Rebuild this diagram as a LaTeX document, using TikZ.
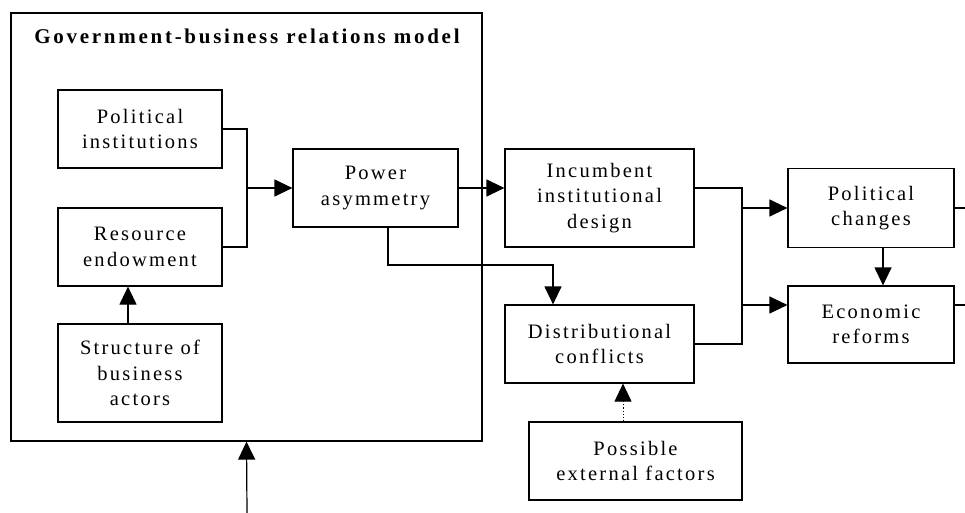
\documentclass[tikz,border=0pt]{standalone}
\usepackage{fontspec}
\setmainfont{Liberation Serif}[LetterSpace=11]
\usetikzlibrary{arrows.meta}
\begin{document}
\begin{tikzpicture}[x=1pt,y=-1pt,
  box/.style={draw,line width=1.2pt,minimum width=#1,inner sep=0pt,align=center,font=\fontsize{20.5}{25.5}\selectfont},
  conn/.style={line width=1.2pt},
  arr/.style={line width=1.2pt,-{Triangle[length=18pt,width=17pt]}},
  ]
\useasboundingbox (0,0) rectangle (965,513);
\node[draw,line width=1.2pt,minimum width=471pt,minimum height=428pt,inner sep=0pt] (big) at (246.5,227) {};
\node[font=\bfseries\fontsize{21}{25}\selectfont\addfontfeatures{LetterSpace=13}] (title) at (247,36) {Government-business relations model};
\node[box=164pt,minimum height=78pt] (pi) at (140,129) {Political\\institutions};
\node[box=164pt,minimum height=78pt] (re) at (140,247) {Resource\\endowment};
\node[box=164pt,minimum height=98pt] (sb) at (140,373) {Structure of\\business\\actors};
\node[box=165pt,minimum height=78pt] (pa) at (375.5,188) {Power\\asymmetry};
\node[box=189pt,minimum height=98pt] (ind) at (599.5,198) {Incumbent\\institutional\\design};
\node[box=189pt,minimum height=78pt] (dc) at (599.5,344) {Distributional\\conflicts};
\node[box=213pt,minimum height=78pt] (pef) at (635.5,461) {Possible\\external factors};
\node[box=166pt,minimum height=79pt] (pc) at (871,208) {Political\\changes};
\node[box=166pt,minimum height=77pt] (er) at (871,324.5) {Economic\\reforms};
\coordinate (j1) at (247,188);
\coordinate (j2) at (742,188);
\coordinate (k) at (553,265);
\coordinate (bot) at (247,513);
\coordinate (re1) at (965,208);
\coordinate (re2) at (965,305);
\draw[conn] (pi.east) -| (j1) |- (re.east);
\draw[arr] (j1) -- (pa.west);
\draw[arr] (pa.east) -- (pa.east -| ind.west);
\draw[arr] ([xshift=12.5pt]pa.south) |- (k) -- (k |- dc.north);
\draw[arr] ([xshift=-12pt]sb.north) -- ([xshift=-12pt]re.south);
\draw[arr,dotted,line width=1pt] ([xshift=-12.5pt]pef.north) -- ([xshift=23.5pt]dc.south);
\draw[conn] (ind.east |- j2) -- (j2) |- (dc.east);
\draw[arr] (742,208) -- (pc.west);
\draw[arr] (742,305) -- (er.west |- 742,305);
\draw[arr] ([xshift=12pt]pc.south) -- ([xshift=12pt]er.north);
\draw[conn] (pc.east) -- (re1);
\draw[conn] (er.east |- re2) -- (re2);
\draw[arr] (bot) -- (big.south);
\end{tikzpicture}
\end{document}
